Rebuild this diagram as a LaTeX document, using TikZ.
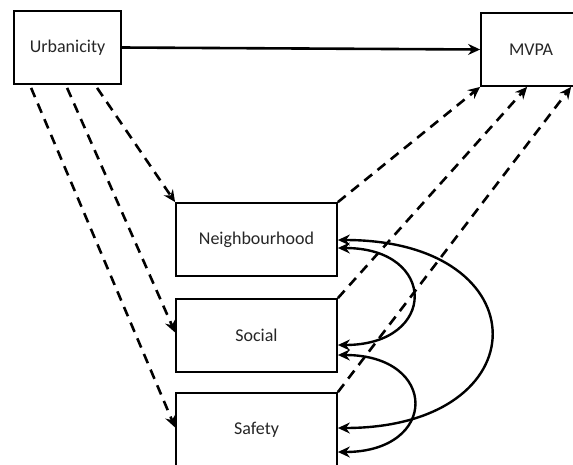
\documentclass[tikz,border=0pt]{standalone}
\usepackage{fontspec}
\setmainfont{Carlito}
\usetikzlibrary{arrows.meta}
\begin{document}
\begin{tikzpicture}[x=1pt,y=-1pt,
  box/.style={draw,line width=1.8pt,inner sep=0pt,font=\fontsize{18}{22}\selectfont,text=black!85},
  arr/.style={line width=2.6pt,-{Stealth[length=12pt,width=11pt,inset=4pt]}},
  dbl/.style={line width=2.4pt,{Stealth[length=12pt,width=11pt,inset=4pt]}-{Stealth[length=12pt,width=11pt,inset=4pt]}},
  darr/.style={arr,dash pattern=on 10pt off 7pt}]
\useasboundingbox (0,0) rectangle (573,464);
\clip (0,0) rectangle (573,464);
\fill[white] (0,0) rectangle (573,464);
\node[box,minimum width=107pt,minimum height=73pt] (urb) at (67.5,47.5) {Urbanicity};
\node[box,minimum width=100pt,minimum height=73pt] (mvpa) at (531,49.5) {MVPA};
\node[box,minimum width=161pt,minimum height=73pt] (neigh) at (256.5,239.5) {Neighbourhood};
\node[box,minimum width=161pt,minimum height=73pt] (soc) at (256.5,335.5) {Social};
\node[box,minimum width=161pt,minimum height=73pt] (safe) at (256.5,429.5) {Safety};
% solid
\draw[arr] (urb.east) -- (mvpa.west);
% dashed from urbanicity
\draw[darr] ([xshift=84pt,yshift=-3pt]urb.south west) -- (neigh.north west);
\draw[darr] ([xshift=54pt,yshift=-3pt]urb.south west) -- ([yshift=3pt]soc.west);
\draw[darr] ([xshift=18pt,yshift=-3pt]urb.south west) -- ([yshift=2pt]safe.west);
% dashed to MVPA
\draw[darr] (neigh.north east) -- (mvpa.south west);
\draw[darr] (soc.north east) -- ([xshift=47pt]mvpa.south west);
\draw[darr] (safe.north east) -- ([xshift=91pt]mvpa.south west);
% covariances
\draw[dbl] ([yshift=-8.5pt]neigh.east) .. controls +(100,0) and +(100,0) .. ([yshift=-9.5pt]soc.east);
\draw[dbl] ([yshift=-19.5pt]soc.east) .. controls +(101,0) and +(101,0) .. ([yshift=-22.5pt]safe.east);
\draw[dbl] ([yshift=-0.5pt]neigh.east) .. controls +(204,0) and +(204,0) .. ([yshift=1.5pt]safe.east);
\end{tikzpicture}
\end{document}
